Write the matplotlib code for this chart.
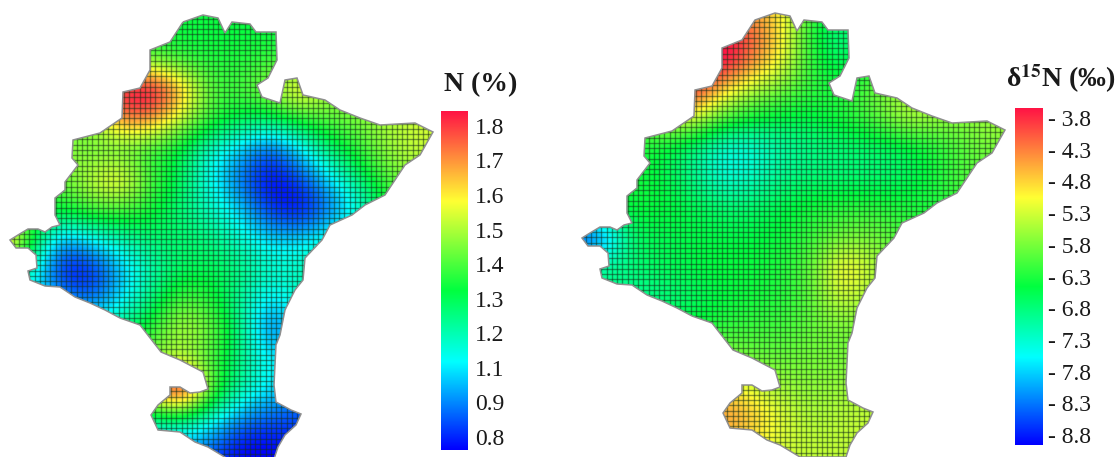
# Mapas de N (%) y delta 15N (permil) sobre malla

import numpy as np
import matplotlib.pyplot as plt
from matplotlib.colors import LinearSegmentedColormap
from matplotlib.patches import Polygon

W, H = 1120, 457

# contorno de la region (pixeles del mapa izquierdo)
contorno_x = [183, 203, 218, 225, 232, 250, 256, 276, 277, 268, 257, 262, 280, 285, 297, 303,
              325, 340, 360, 380, 415, 433, 420, 405, 395, 385, 365, 352, 330, 322, 305, 303,
              295, 285, 280, 276, 274, 276, 291, 301, 296, 285, 278, 274, 228, 208, 195, 180,
              158, 151, 158, 170, 170, 180, 190, 200, 208, 203, 180, 161, 140, 120, 105, 90,
              75, 60, 45, 30, 28, 37, 36, 28, 16, 10, 18, 28, 38, 45, 52, 60, 55, 55, 65, 65,
              78, 72, 73, 100, 122, 123, 140, 150, 150, 170]
contorno_y = [22, 15, 18, 33, 22, 24, 32, 32, 60, 78, 85, 97, 103, 80, 78, 95,
              100, 110, 118, 125, 123, 132, 155, 165, 180, 195, 205, 215, 225, 240, 258, 280,
              290, 310, 335, 345, 385, 402, 410, 414, 425, 435, 447, 459, 459, 447, 442, 432,
              430, 415, 405, 395, 387, 387, 393, 392, 389, 372, 360, 352, 325, 318, 310, 303,
              297, 287, 286, 280, 271, 268, 255, 248, 248, 240, 235, 229, 229, 232, 227, 225,
              215, 198, 190, 182, 165, 158, 140, 133, 118, 92, 88, 70, 50, 42]

valores_n = [
    [1.30, 1.30, 1.30, 1.30, 1.30, 1.30, 1.30, 1.30, 1.30, 1.30, 1.30, 1.30, 1.30, 1.30, 1.30, 1.30],
    [1.30, 1.30, 1.30, 1.30, 1.30, 1.28, 1.27, 1.27, 1.27, 1.27, 1.28, 1.30, 1.30, 1.30, 1.30, 1.30],
    [1.32, 1.32, 1.32, 1.32, 1.35, 1.38, 1.32, 1.30, 1.30, 1.33, 1.36, 1.36, 1.36, 1.36, 1.36, 1.36],
    [1.40, 1.40, 1.42, 1.50, 1.92, 1.95, 1.70, 1.36, 1.35, 1.45, 1.64, 1.45, 1.42, 1.42, 1.45, 1.45],
    [1.40, 1.40, 1.40, 1.42, 1.72, 1.70, 1.50, 1.33, 1.25, 1.22, 1.30, 1.38, 1.42, 1.48, 1.52, 1.52],
    [1.45, 1.45, 1.45, 1.38, 1.36, 1.30, 1.25, 1.08, 0.98, 0.82, 1.00, 1.20, 1.33, 1.45, 1.50, 1.50],
    [1.40, 1.40, 1.38, 1.50, 1.62, 1.36, 1.25, 1.05, 0.88, 0.74, 0.82, 1.00, 1.20, 1.38, 1.45, 1.45],
    [1.30, 1.30, 1.28, 1.36, 1.36, 1.30, 1.20, 1.12, 1.00, 0.80, 0.74, 0.88, 1.05, 1.30, 1.40, 1.40],
    [1.85, 1.35, 0.92, 1.02, 1.12, 1.20, 1.22, 1.20, 1.10, 1.00, 1.00, 1.10, 1.20, 1.30, 1.30, 1.30],
    [1.20, 1.12, 0.76, 0.76, 0.95, 1.13, 1.22, 1.25, 1.20, 1.12, 1.12, 1.20, 1.25, 1.30, 1.30, 1.30],
    [1.10, 1.05, 0.95, 0.86, 1.00, 1.18, 1.38, 1.32, 1.15, 1.00, 1.10, 1.20, 1.25, 1.30, 1.30, 1.30],
    [1.10, 1.10, 1.10, 1.12, 1.20, 1.32, 1.50, 1.42, 1.20, 0.85, 1.00, 1.10, 1.20, 1.30, 1.30, 1.30],
    [1.20, 1.20, 1.20, 1.25, 1.30, 1.40, 1.46, 1.35, 1.18, 1.05, 1.00, 1.05, 1.10, 1.20, 1.20, 1.20],
    [1.30, 1.30, 1.30, 1.35, 1.40, 1.70, 2.05, 1.40, 1.15, 1.02, 0.95, 0.95, 1.00, 1.10, 1.10, 1.10],
    [1.10, 1.10, 1.10, 1.10, 1.10, 1.12, 1.15, 1.08, 0.90, 0.85, 0.82, 0.85, 0.90, 1.00, 1.00, 1.00],
    [1.00, 1.00, 1.00, 1.00, 1.00, 1.00, 0.95, 0.85, 0.74, 0.74, 0.80, 0.80, 0.85, 0.90, 0.90, 0.90],
]

valores_d15n = [
    [-6.3, -6.3, -6.3, -6.3, -6.3, -5.5, -4.8, -4.9, -6.0, -6.3, -6.3, -6.3, -6.3, -6.3, -6.3, -6.3],
    [-6.0, -6.0, -6.0, -6.0, -4.6, -3.6, -4.1, -4.9, -6.4, -7.0, -6.6, -6.3, -6.3, -6.3, -6.3, -6.3],
    [-6.0, -6.0, -6.0, -4.8, -3.8, -3.1, -4.2, -5.0, -6.3, -6.8, -6.4, -6.2, -6.2, -6.2, -6.2, -6.2],
    [-6.0, -6.0, -5.6, -3.7, -3.4, -4.8, -5.4, -5.8, -6.2, -6.3, -5.9, -5.6, -5.5, -5.8, -5.6, -5.6],
    [-6.0, -6.0, -6.0, -5.2, -5.2, -6.0, -6.4, -6.5, -6.5, -6.3, -6.0, -5.4, -5.5, -5.7, -5.5, -5.5],
    [-6.3, -6.3, -6.3, -6.5, -6.9, -7.5, -7.5, -7.1, -6.9, -6.8, -6.8, -6.7, -6.4, -6.0, -5.8, -5.8],
    [-6.3, -6.3, -6.3, -6.5, -6.9, -7.4, -7.3, -6.9, -6.8, -6.8, -6.8, -6.7, -6.4, -6.0, -5.9, -5.9],
    [-6.4, -6.5, -6.4, -6.4, -6.5, -6.7, -6.7, -6.5, -6.3, -6.2, -6.2, -6.3, -6.3, -6.1, -6.0, -6.0],
    [-9.2, -8.6, -6.6, -6.6, -6.5, -6.5, -6.5, -6.4, -6.2, -5.8, -5.8, -6.0, -6.2, -6.1, -6.0, -6.0],
    [-6.8, -6.8, -6.8, -6.6, -6.5, -6.4, -6.4, -6.3, -5.9, -4.8, -5.3, -6.0, -6.1, -6.1, -6.0, -6.0],
    [-7.0, -7.0, -7.0, -6.9, -6.7, -6.5, -6.4, -6.3, -6.0, -5.2, -5.6, -6.0, -6.0, -6.0, -6.0, -6.0],
    [-6.8, -6.8, -6.8, -6.6, -6.4, -6.2, -6.1, -6.1, -5.9, -5.8, -5.9, -6.0, -6.0, -6.0, -6.0, -6.0],
    [-6.2, -6.2, -6.2, -6.0, -5.8, -5.6, -5.9, -5.9, -5.8, -5.8, -5.8, -5.8, -5.8, -5.8, -5.8, -5.8],
    [-5.6, -5.6, -5.6, -5.4, -5.1, -4.8, -5.2, -5.6, -5.7, -5.6, -5.6, -5.6, -5.6, -5.6, -5.6, -5.6],
    [-5.4, -5.4, -5.4, -5.0, -4.6, -4.3, -4.6, -5.2, -5.5, -5.4, -5.3, -5.3, -5.3, -5.3, -5.3, -5.3],
    [-5.4, -5.4, -5.4, -5.2, -5.0, -4.9, -5.0, -5.3, -5.4, -5.4, -5.4, -5.4, -5.4, -5.4, -5.4, -5.4],
]

etiquetas_n = ["1.8", "1.7", "1.6", "1.5", "1.4", "1.3", "1.2", "1.1", "0.9", "0.8"]
etiquetas_d15n = ["- 3.8", "- 4.3", "- 4.8", "- 5.3", "- 5.8", "- 6.3", "- 6.8", "- 7.3", "- 7.8", "- 8.3", "- 8.8"]

plt.rcParams['font.family'] = ['Liberation Serif', 'DejaVu Serif']

paleta = LinearSegmentedColormap.from_list("arcoiris", [
    (0.00, (0, 0, 1)),
    (0.26, (0, 1, 1)),
    (0.47, (0, 1, 0.25)),
    (0.735, (1, 1, 0.2)),
    (1.00, (1, 0.08, 0.27)),
])


def eje_px(x0, y0, ancho, alto):
    return fig.add_axes([x0 / W, 1 - (y0 + alto) / H, ancho / W, alto / H])


def dibujar_mapa(x0, y0, valores, vmin, vmax):
    ax = eje_px(x0, y0, 445, 460)
    ax.axis("off")
    borde = Polygon(np.column_stack([contorno_x, contorno_y]), closed=True, transform=ax.transData,
                    facecolor="none", edgecolor="#8f8f8f", lw=1.1, zorder=4)
    ax.add_patch(borde)
    im = ax.imshow(valores, extent=(-15, 465, 465, -15), cmap=paleta, vmin=vmin, vmax=vmax,
                   interpolation="bicubic", aspect="auto", zorder=1)
    im.set_clip_path(borde)
    ax.set_xlim(0, 445)
    ax.set_ylim(460, 0)
    # malla
    paso = 5.25
    lineas_v = ax.vlines(np.arange(3, 440, paso), 0, 460, color="#15301a", lw=1.0, alpha=0.5, zorder=2)
    lineas_h = ax.hlines(np.arange(3, 460, paso), 0, 440, color="#15301a", lw=1.0, alpha=0.5, zorder=2)
    lineas_v.set_clip_path(borde)
    lineas_h.set_clip_path(borde)
    return im


def dibujar_barra(x0, y0, ancho, alto, vmin, vmax, ticks, etiquetas, pad):
    cax = eje_px(x0, y0, ancho, alto)
    gradiente = np.linspace(vmax, vmin, 256).reshape(-1, 1)
    cax.imshow(gradiente, extent=(0, 1, vmin, vmax), cmap=paleta, vmin=vmin, vmax=vmax, aspect="auto")
    cax.set_xticks([])
    cax.yaxis.tick_right()
    cax.set_yticks(ticks)
    cax.set_yticklabels(etiquetas, fontsize=17, color="#1a1a1a")
    cax.tick_params(axis="y", length=0, pad=pad)
    for s in cax.spines.values():
        s.set_visible(False)
    return cax


fig = plt.figure(figsize=(W / 100, H / 100), dpi=100)

dibujar_mapa(0, 0, valores_n, 0.758, 1.848)
dibujar_mapa(572, -2, valores_d15n, -8.96, -3.64)

dibujar_barra(441, 111, 27, 339, 0.758, 1.848, np.linspace(1.8, 0.8, 10), etiquetas_n, 5)
dibujar_barra(1015, 108, 28, 337, -8.96, -3.64, np.linspace(-3.8, -8.8, 11), etiquetas_d15n, 3.5)

fig.text(480.5 / W, 1 - 85 / H, "N (%)", fontsize=20, fontweight="bold", ha="center", va="center", color="#1a1a1a")
fig.text(1061 / W, 1 - 79 / H, "δ$^{\\mathbf{15}}$N (‰)", fontsize=20, fontweight="bold", ha="center",
         va="center", color="#1a1a1a", math_fontfamily="stix")

fig.savefig("out.png", dpi=100)
